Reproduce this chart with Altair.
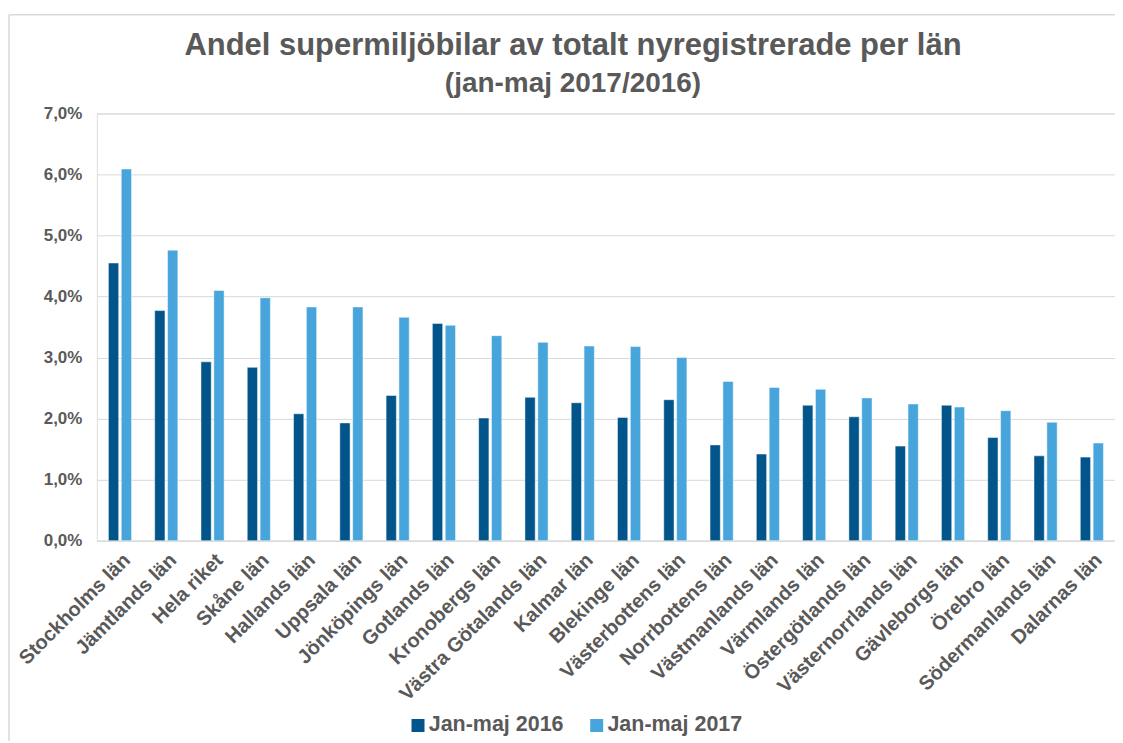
import altair as alt
import pandas as pd

lan = ["Stockholms län", "Jämtlands län", "Hela riket", "Skåne län", "Hallands län",
       "Uppsala län", "Jönköpings län", "Gotlands län", "Kronobergs län",
       "Västra Götalands län", "Kalmar län", "Blekinge län", "Västerbottens län",
       "Norrbottens län", "Västmanlands län", "Värmlands län", "Östergötlands län",
       "Västernorrlands län", "Gävleborgs län", "Örebro län", "Södermanlands län",
       "Dalarnas län"]
v2016 = [4.55, 3.77, 2.93, 2.84, 2.08, 1.93, 2.38, 3.56, 2.01, 2.35, 2.26, 2.02,
         2.31, 1.57, 1.42, 2.22, 2.03, 1.55, 2.22, 1.69, 1.39, 1.37]
v2017 = [6.09, 4.76, 4.10, 3.98, 3.83, 3.83, 3.66, 3.53, 3.36, 3.25, 3.19, 3.18,
         3.00, 2.61, 2.51, 2.48, 2.34, 2.24, 2.19, 2.13, 1.94, 1.60]
series = ["Jan-maj 2016", "Jan-maj 2017"]
colors = ["#02558A", "#48A5DC"]

rows = []
for i, name in enumerate(lan):
    rows.append({"lan": name, "serie": series[0], "andel": v2016[i] / 100})
    rows.append({"lan": name, "serie": series[1], "andel": v2017[i] / 100})
df = pd.DataFrame(rows)

FONT = "Liberation Sans"
GREY = "#595959"

bars = alt.Chart(df).mark_bar(stroke="white", strokeWidth=0.8, strokeOpacity=0.6).encode(
    x=alt.X("lan:N", sort=lan, title=None,
            scale=alt.Scale(paddingInner=0.5, paddingOuter=0.25),
            axis=alt.Axis(labelAngle=-45, labelFontSize=20, labelFontWeight="bold",
                          labelColor=GREY, labelFont=FONT, ticks=False,
                          domainColor="#D9D9D9", labelPadding=9, labelLimit=300)),
    xOffset=alt.XOffset("serie:N", sort=series,
                        scale=alt.Scale(paddingInner=0.2, paddingOuter=0)),
    y=alt.Y("andel:Q", title=None,
            scale=alt.Scale(domain=[0, 0.07]),
            axis=alt.Axis(values=[0, 0.01, 0.02, 0.03, 0.04, 0.05, 0.06, 0.07],
                          labelExpr="replace(format(datum.value, '.1%'), '.', ',')",
                          labelFontSize=17, labelFontWeight="bold", labelColor=GREY,
                          labelFont=FONT, ticks=False, domain=False, labelPadding=15,
                          gridColor="#D9D9D9", gridWidth=1)),
    color=alt.Color("serie:N", sort=series,
                    scale=alt.Scale(domain=series, range=colors),
                    legend=alt.Legend(title=None, orient="none", legendX=311, legendY=602,
                                      direction="horizontal", symbolType="square",
                                      symbolSize=169, symbolStrokeWidth=0,
                                      labelFontSize=21.5, labelFontWeight="bold",
                                      labelColor=GREY, labelFont=FONT, labelOffset=0,
                                      columnPadding=22)),
)

border = alt.Chart(alt.Data(values=[{}])).mark_rule(color="#D9D9D9", strokeWidth=1.5).encode(
    x=alt.value(-88), x2=alt.value(-88), y=alt.value(-99), y2=alt.value(640)
)
border_top = alt.Chart(alt.Data(values=[{}])).mark_rule(color="#D9D9D9", strokeWidth=1.5).encode(
    x=alt.value(-88), x2=alt.value(1030), y=alt.value(-99), y2=alt.value(-99)
)

chart = alt.layer(border, border_top, bars).properties(
    width=1020, height=428,
    autosize=alt.AutoSizeParams(type="none"),
    padding={"left": 89, "top": 105, "right": 0, "bottom": 200},
    title=alt.TitleParams(
        text="Andel supermiljöbilar av totalt nyregistrerade per län",
        subtitle="(jan-maj 2017/2016)",
        font=FONT, fontSize=31, fontWeight="bold", color=GREY,
        subtitleFont=FONT, subtitleFontSize=28, subtitleFontWeight="bold",
        subtitleColor=GREY, subtitlePadding=8,
        anchor="middle", frame="group", dx=-33, offset=-85,
    ),
).configure_view(stroke=None).configure(background="white")

chart.save("out.html", embed_options={"renderer": "svg", "actions": False})
